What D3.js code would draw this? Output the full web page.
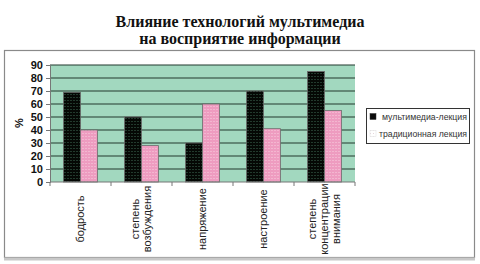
<!DOCTYPE html>
<html>
<head>
<meta charset="utf-8">
<script src="https://cdn.jsdelivr.net/npm/d3@7/dist/d3.min.js"></script>
<style>
    body { margin: 0; background: #fff; }
    text { font-family: Arial, "Liberation Sans", sans-serif; }
</style>
</head>
<body>
<div id="chart"></div>
<script>
// категории (подписи оси X, по строкам)
var categories = [
    ['бодрость'],
    ['степень', 'возбуждения'],
    ['напряжение'],
    ['настроение'],
    ['степень', 'концентрации', 'внимания']
];
var multimedia = [69, 50, 30, 70, 85];
var traditional = [40, 28, 60, 41, 55];
var seriesNames = ['мультимедиа-лекция', 'традиционная лекция'];
var yTicks = [0, 10, 20, 30, 40, 50, 60, 70, 80, 90];

var width = 480, height = 264;
var plot = {left: 50, right: 355, top: 65, bottom: 182};

var svg = d3.select('#chart')
    .append('svg')
    .attr('width', width)
    .attr('height', height);

// узоры для столбцов (точечная заливка)
var defs = svg.append('defs');
function dotPattern(id, bg, dot) {
    var p = defs.append('pattern')
        .attr('id', id)
        .attr('width', 3)
        .attr('height', 3)
        .attr('patternUnits', 'userSpaceOnUse');
    p.append('rect').attr('width', 3).attr('height', 3).attr('fill', bg);
    p.append('rect').attr('x', 1).attr('y', 1).attr('width', 1).attr('height', 1).attr('fill', dot);
}
dotPattern('pBlack', '#050805', '#3e6a55');
dotPattern('pPink', '#ee9cc0', '#f8cfe0');
dotPattern('pPinkLeg', '#ffffff', '#e6d6dc');

// рамка диаграммы
svg.append('rect')
    .attr('x', 4.5).attr('y', 50.5)
    .attr('width', 470).attr('height', 207)
    .attr('fill', '#fff')
    .attr('stroke', '#8a8a8a')
    .attr('stroke-width', 1.2);
svg.append('line')
    .attr('x1', 4).attr('x2', 475).attr('y1', 259).attr('y2', 259)
    .attr('stroke', '#c8c8c8').attr('stroke-width', 3);

// заголовок
var title = svg.append('text')
    .attr('text-anchor', 'middle')
    .style('font-family', '"Liberation Serif", "Times New Roman", serif')
    .style('font-weight', 'bold')
    .style('font-size', '16px')
    .attr('fill', '#111');
title.append('tspan').attr('x', 240).attr('y', 27).text('Влияние технологий мультимедиа');
title.append('tspan').attr('x', 240).attr('y', 44).text('на восприятие информации');

var x0 = d3.scaleBand()
    .domain(d3.range(categories.length))
    .range([plot.left, plot.right]);
var x1 = d3.scaleBand()
    .domain([0, 1])
    .range([0, 34]);
var y = d3.scaleLinear()
    .domain([0, 90])
    .range([plot.bottom, plot.top]);

// фон области построения
svg.append('rect')
    .attr('x', plot.left).attr('y', plot.top)
    .attr('width', plot.right - plot.left)
    .attr('height', plot.bottom - plot.top)
    .attr('fill', '#a2d8bf');

// линии сетки
svg.append('g')
    .selectAll('line')
    .data(yTicks.slice(1))
    .enter()
    .append('line')
    .attr('x1', plot.left).attr('x2', plot.right)
    .attr('y1', function (d) { return y(d); })
    .attr('y2', function (d) { return y(d); })
    .attr('stroke', '#22382e')
    .attr('stroke-width', 1.2);

// столбцы
var groups = svg.append('g')
    .selectAll('g')
    .data(categories.map(function (c, i) { return [multimedia[i], traditional[i]]; }))
    .enter()
    .append('g')
    .attr('transform', function (d, i) {
        return 'translate(' + (x0(i) + x0.bandwidth() / 2 - 17) + ',0)';
    });
groups.selectAll('rect')
    .data(function (d) { return d; })
    .enter()
    .append('rect')
    .attr('x', function (d, j) { return x1(j); })
    .attr('y', function (d) { return y(d); })
    .attr('width', x1.bandwidth())
    .attr('height', function (d) { return y(0) - y(d); })
    .attr('fill', function (d, j) { return j ? 'url(#pPink)' : 'url(#pBlack)'; })
    .attr('stroke', '#6b6b6b')
    .attr('stroke-width', 0.8);

// ось Y
var yAxis = svg.append('g')
    .attr('transform', 'translate(' + plot.left + ',0)')
    .call(d3.axisLeft(y).tickValues(yTicks).tickSize(4).tickPadding(3));
yAxis.select('.domain').attr('stroke', '#777');
yAxis.selectAll('.tick line').attr('stroke', '#777');
yAxis.selectAll('text')
    .style('font-size', '11px')
    .style('font-weight', 'bold')
    .attr('fill', '#111');

svg.append('text')
    .attr('transform', 'translate(23,123) rotate(-90)')
    .attr('text-anchor', 'middle')
    .style('font-size', '11px')
    .style('font-weight', 'bold')
    .attr('fill', '#111')
    .text('%');

// ось X
var xAxis = svg.append('g')
    .attr('transform', 'translate(0,' + plot.bottom + ')');
xAxis.append('line')
    .attr('x1', plot.left).attr('x2', plot.right)
    .attr('stroke', '#777');
xAxis.selectAll('line.tk')
    .data(d3.range(categories.length + 1))
    .enter()
    .append('line')
    .attr('class', 'tk')
    .attr('x1', function (d) { return plot.left + d * x0.step(); })
    .attr('x2', function (d) { return plot.left + d * x0.step(); })
    .attr('y1', 0).attr('y2', 4)
    .attr('stroke', '#777');

// подписи категорий, повернутые на 90 градусов
categories.forEach(function (lines, i) {
    var cx = x0(i) + x0.bandwidth() / 2;
    var step = 12;
    lines.forEach(function (s, k) {
        var off = (k - (lines.length - 1) / 2) * step;
        svg.append('text')
            .attr('transform', 'translate(' + (cx + off + 3) + ',219) rotate(-90)')
            .attr('text-anchor', 'middle')
            .style('font-size', '11px')
            .attr('fill', '#222')
            .text(s);
    });
});

// легенда
var legend = svg.append('g');
legend.append('rect')
    .attr('x', 366.5).attr('y', 108.5)
    .attr('width', 103).attr('height', 35)
    .attr('fill', '#fff')
    .attr('stroke', '#333')
    .attr('stroke-width', 1);
seriesNames.forEach(function (name, i) {
    var ly = 117 + i * 17;
    legend.append('rect')
        .attr('x', 370).attr('y', ly - 3.5)
        .attr('width', 6).attr('height', 6)
        .attr('fill', i ? 'url(#pPinkLeg)' : '#0a0a0a')
        .attr('stroke', i ? '#ddd' : '#333')
        .attr('stroke-width', 0.5);
    legend.append('text')
        .attr('x', i ? 379 : 382)
        .attr('y', ly + 3)
        .attr('textLength', i ? 88 : 85)
        .attr('lengthAdjust', 'spacingAndGlyphs')
        .style('font-size', '9px')
        .attr('fill', '#333')
        .text(name);
});
</script>
</body>
</html>
